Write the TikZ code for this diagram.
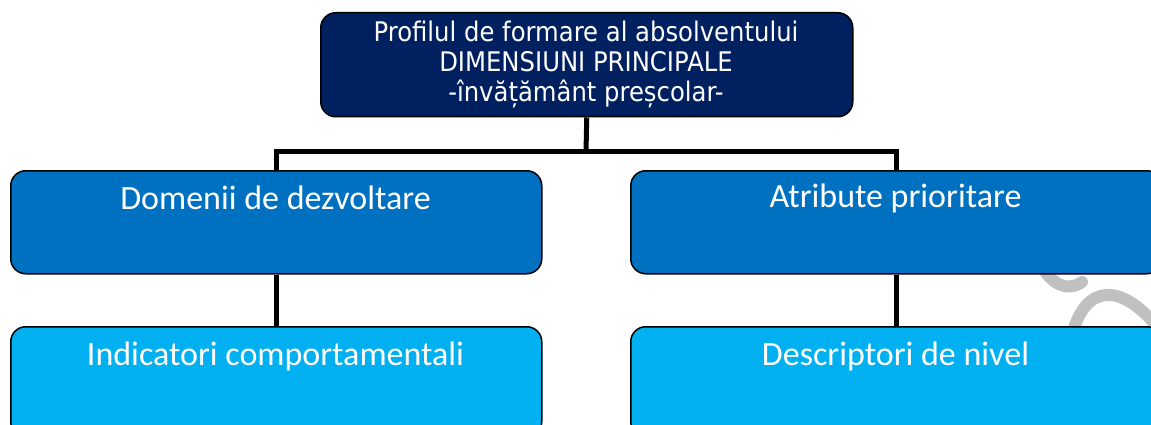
\documentclass[tikz,border=0pt]{standalone}
\usepackage{fontspec}
\newfontfamily\tahoma[FakeStretch=0.9]{DejaVu Sans}
\newfontfamily\calib{Carlito}
\definecolor{navy}{HTML}{002060}
\definecolor{midblue}{HTML}{0070C0}
\definecolor{lightblue}{HTML}{00B0F0}
\definecolor{wmgray}{HTML}{C0C0C0}
\begin{document}
\begin{tikzpicture}[x=1pt,y=-1pt,
  box/.style={draw=black, line width=1.5pt, rounded corners=15pt, anchor=north west, inner sep=0pt},
  boxtext/.style={text=white, font=\calib\fontsize{34}{40}\selectfont, anchor=center, inner sep=0pt},
  conn/.style={draw=black, line width=5pt}]
\useasboundingbox (0,0) rectangle (1151,425);
% watermark fragments
\draw[wmgray, line width=12pt, line cap=round] (1072,335) .. controls (1085,285) and (1120,280) .. (1160,330);
\draw[wmgray, line width=12pt, line cap=round] (1040,262) .. controls (1050,285) and (1068,292) .. (1082,282);
% boxes
\node[box, fill=navy, minimum width=532pt, minimum height=104pt] (top) at (320,12) {};
\node[box, fill=midblue, minimum width=531pt, minimum height=103pt] (dom) at (10,170) {};
\node[box, fill=midblue, minimum width=531pt, minimum height=103pt] (atr) at (630,170) {};
\node[box, fill=lightblue, minimum width=531pt, minimum height=110pt] (ind) at (10,326) {};
\node[box, fill=lightblue, minimum width=531pt, minimum height=110pt] (des) at (630,326) {};
% texts
\node[text=white, align=center, inner sep=0pt, font=\tahoma\fontsize{27}{30}\selectfont] (toptxt) at (586,64) {Profilul de formare al absolventului\\DIMENSIUNI PRINCIPALE\\-învățământ preșcolar-};
\node[boxtext] (domtxt) at (275.5,198) {Domenii de dezvoltare};
\node[boxtext] (atrtxt) at (895.5,198) {Atribute prioritare};
\node[boxtext] (indtxt) at (275.5,356) {Indicatori comportamentali};
\node[boxtext] (destxt) at (895.5,356) {Descriptori de nivel};
% connectors
\coordinate (bar) at (586,152);
\draw[conn] (top.south) -- (bar);
\draw[conn] (dom.north) |- (bar) -| (atr.north);
\draw[conn] (dom.south) -- (ind.north);
\draw[conn] (atr.south) -- (des.north);
\end{tikzpicture}
\end{document}
